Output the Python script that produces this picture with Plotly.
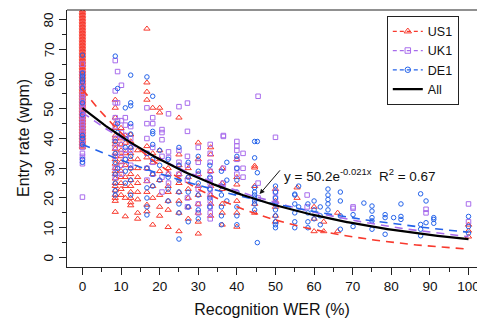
import numpy as np
import plotly.graph_objects as go

# ---------------- data ----------------
# each entry: (Recognition WER %, [entry rates in wpm observed at that WER])
us1_columns = [
    (0, [37, 37.5, 38, 38.5, 39, 39.5, 40, 40.5, 41, 41.5, 42, 42.5, 43, 43.5, 44, 44.5, 45, 45.5,
         46, 46.5, 47, 47.5, 48, 48.5, 49, 49.5, 50, 50.5, 51, 51.5, 52, 52.5, 53, 53.5, 54, 54.5,
         55, 55.5, 56, 56.5, 57, 57.5, 58, 58.5, 59, 59.5, 60, 60.5, 61, 61.5, 62, 62.5, 63, 63.5,
         64, 64.5, 65, 65.5, 66, 66.5, 67, 67.5, 68, 68.5, 69, 69.5, 70, 70.5, 71, 71.5, 72, 72.5,
         73, 73.5, 74, 74.5, 75, 75.5, 76, 76.5, 77, 77.5, 78, 78.5, 79, 79.5, 80, 80.5, 81, 81.5,
         82, 82.5, 83, 84]),
    (8.5, [53, 50.3, 47, 45, 43.5, 41, 40, 39, 38, 36.5, 35, 34, 33, 31.5, 30, 29, 28, 26.5, 25, 24,
           22.5, 21, 20, 19, 15.3]),
    (10, [43.5, 40, 38, 36, 34, 32, 29, 27, 25, 23, 21]),
    (11.1, [41, 38.5, 35, 31, 27, 24, 20, 13.8]),
    (12.5, [41.3, 39, 37, 35, 33, 30, 28, 26, 24, 22, 20, 18.5, 17.5]),
    (14.3, [36, 33, 30, 27, 25, 22, 19.5, 15, 13]),
    (16.7, [76.9, 58.8, 55.7, 53, 37.4, 33.6, 30, 25.6, 22, 17.7, 15.5]),
    (18.2, [50.3, 35, 31.9, 28, 24, 20, 11]),
    (20, [50.3, 48.7, 36, 33, 29, 26, 21, 17, 14]),
    (22.2, [30, 28, 24, 22, 19, 16, 10.2]),
    (25, [47, 34.6, 31, 28, 25, 22, 19, 15, 8.8]),
    (27.4, [30, 27, 23, 20, 17, 13]),
    (30, [38.6, 33, 28, 24, 21, 18, 15, 12, 8]),
    (33.2, [37, 34.6, 29, 24, 21, 18, 14]),
    (36.2, [30, 25, 23, 18, 15, 11]),
    (40, [33, 27, 24.5, 19, 15, 10.3]),
    (44.6, [30.8, 30.2, 24, 18, 15]),
    (50, [23, 19, 17, 14, 12]),
    (55.6, [23.5, 20]),
    (60, [17, 13, 8.8]),
    (62.5, [12, 8.8]),
    (66.1, [15, 8.8]),
    (100, [11, 9, 7]),
]

uk1_columns = [
    (0, [65, 62, 60, 58, 57, 55, 54, 53, 52, 51, 50, 49, 48, 47, 46, 45, 44, 43, 42, 41, 40, 39, 38,
         37, 35, 34, 33, 31.5, 20.3]),
    (8.5, [66.2, 56, 52, 47, 44, 40, 37, 34, 30, 27]),
    (9.1, [62.5, 52, 46]),
    (10.1, [57.9, 46, 42, 38, 35, 31, 28]),
    (11.1, [47, 44.5, 41, 36, 33]),
    (12.5, [44, 40, 36, 31]),
    (16.7, [50.3, 45, 40, 35, 30, 26]),
    (18.2, [47, 45, 37, 32, 28]),
    (20.6, [43, 42, 39.6, 34, 27, 22]),
    (22.3, [48.3, 35.5, 33.6, 28, 25]),
    (25, [50.7, 36, 32, 28]),
    (27.2, [51.9, 42.4, 34, 31, 26, 20, 17]),
    (30, [37, 32, 28, 23, 18, 15]),
    (33.1, [38, 35, 32, 29, 26.5, 25, 23, 21, 19, 17, 15, 13]),
    (36.5, [40.7, 41, 30, 25]),
    (40, [39, 37.5, 36, 33, 28, 30]),
    (41.6, [35, 30, 27]),
    (45.5, [54.2, 25, 20]),
    (50, [40.4, 22, 20, 18]),
    (58.2, [21, 17]),
    (70.1, [17, 16.5]),
    (89, [15, 16.2]),
    (100, [18, 12]),
]

de1_columns = [
    (0, [68, 62, 61, 60, 59, 57, 52, 48, 41, 40, 38, 33, 32]),
    (8.5, [67.7, 39, 35, 32, 28, 25, 22.5, 21]),
    (9.1, [56.8, 45, 42, 30]),
    (11.1, [50.3, 40, 37, 33, 29, 25]),
    (12.5, [61.3, 52, 51, 45, 41.5, 37, 34, 30, 26, 21]),
    (16.7, [60.7, 35, 30, 23.4, 20, 17, 14.3]),
    (18.2, [54.2, 42.4, 41.6, 38, 33, 28, 24]),
    (20, [36, 31, 26]),
    (22.2, [33, 27, 23, 19]),
    (25, [37, 31, 26, 22, 18, 15, 6.2]),
    (27.4, [32, 27, 22, 17, 12]),
    (30, [34, 29, 25, 21, 16, 13]),
    (33, [31, 27, 23, 20, 17]),
    (36, [29, 24, 21, 17, 14, 11]),
    (37.4, [32, 26, 19]),
    (40, [34, 30, 26, 22, 17, 14, 11]),
    (44.6, [39, 33.5, 23.5, 22, 21, 20, 19, 18, 16]),
    (45.3, [39, 28.5, 5]),
    (50, [24, 22, 20, 18, 16, 14, 12, 11, 10]),
    (55, [21.3, 21, 18, 15, 12, 10]),
    (56, [24, 17]),
    (58.4, [18, 15, 12, 10]),
    (60, [19, 16, 13]),
    (61.6, [17, 14, 11]),
    (63.6, [23, 21, 19.5, 18, 16]),
    (66.8, [22, 19, 14, 9.5]),
    (70.1, [14.4, 10.4]),
    (72.9, [18.3]),
    (75, [17.3, 15.6, 13.4, 12.3, 9.5]),
    (78.4, [14.4, 13.4, 7.8]),
    (80.6, [13.4]),
    (82.5, [18, 13.8, 12.8]),
    (87.6, [21.4, 11.1, 9.5, 7.3]),
    (89, [19, 11.7]),
    (91, [12.8, 13.4, 11.5]),
    (100, [13.8, 10.4, 8.2]),
]

# exponential fits y = a * exp(b * x)
series_names = ["US1", "UK1", "DE1"]
fit_a = [56.5, 48.7, 38.0]
fit_b = [-0.0300, -0.0194, -0.0150]
all_a = 50.2
all_b = -0.021
all_r2 = 0.67

x_ticks = [0, 10, 20, 30, 40, 50, 60, 70, 80, 90, 100]
y_ticks = [0, 10, 20, 30, 40, 50, 60, 70, 80]
x_title = "Recognition WER (%)"
y_title = "Entry rate (wpm)"

# ---------------- styling ----------------
colors = ["#F83A2E", "#A86CEC", "#2463EA"]
symbols = ["triangle-up-open", "square-open", "circle-open"]
sizes = [5.5, 4.5, 4.5]
FONT = "Liberation Sans, Arial, Helvetica, sans-serif"


def flatten(cols):
    xs, ys = [], []
    for wer, vals in cols:
        for v in vals:
            xs.append(wer)
            ys.append(v)
    return xs, ys


fig = go.Figure()

all_cols = [us1_columns, uk1_columns, de1_columns]
for cols, name, c, s, sz in zip(all_cols, series_names, colors, symbols, sizes):
    xs, ys = flatten(cols)
    fig.add_trace(go.Scatter(x=xs, y=ys, mode="markers", showlegend=False, cliponaxis=True,
                             marker=dict(symbol=s, size=sz, color=c, line=dict(width=1, color=c))))

xfit = np.linspace(0, 100, 201)
for a, b, c in zip(fit_a, fit_b, colors):
    fig.add_trace(go.Scatter(x=xfit, y=a * np.exp(b * xfit), mode="lines", showlegend=False,
                             line=dict(color=c, width=1.6, dash="8px,6px")))
fig.add_trace(go.Scatter(x=xfit, y=all_a * np.exp(all_b * xfit), mode="lines", showlegend=False,
                         line=dict(color="black", width=2.2)))

# legend-only entries
for name, c, s, sz in zip(series_names, colors, symbols, sizes):
    fig.add_trace(go.Scatter(x=[None], y=[None], mode="lines+markers", name=name,
                             line=dict(color=c, width=1.2, dash="4px,3px"),
                             marker=dict(symbol=s, size=sz + 1, color=c, line=dict(width=1, color=c))))
fig.add_trace(go.Scatter(x=[None], y=[None], mode="lines", name="All",
                         line=dict(color="black", width=2.2)))

axis_common = dict(showgrid=False, zeroline=False, showline=True, linecolor="#222", linewidth=1.2,
                   ticks="outside", ticklen=7, tickwidth=1, tickcolor="#222", automargin=False,
                   ticklabeloverflow="allow",
                   tickfont=dict(size=13.5, color="#111", family=FONT),
                   minor=dict(ticks="outside", ticklen=4, tickwidth=1, tickcolor="#222"))

fig.update_layout(
    width=477, height=320,
    margin=dict(l=67, r=0, t=10, b=53),
    paper_bgcolor="white", plot_bgcolor="white",
    font=dict(family=FONT, color="#111"),
    xaxis=dict(range=[-4, 102.2], tickvals=x_ticks, ticktext=[str(v) for v in x_ticks],
               title=dict(text=x_title, font=dict(size=16), standoff=10),
               **axis_common),
    yaxis=dict(range=[-3.2, 83.2], tickvals=y_ticks, showticklabels=False,
               **axis_common),
    legend=dict(x=0.78, y=0.978, xanchor="left", yanchor="top", bgcolor="white",
                bordercolor="#222", borderwidth=1, font=dict(size=12.5, family=FONT),
                itemwidth=30, tracegroupgap=0),
    showlegend=True,
)
fig.update_xaxes(minor_dtick=5)
fig.update_yaxes(minor_dtick=5)

# rotated y tick labels (R style, parallel to the axis)
for v in y_ticks:
    fig.add_annotation(x=-0.044, y=v, xref="paper", yref="y", text=str(v), textangle=-90,
                       showarrow=False, xanchor="center", yanchor="middle",
                       font=dict(size=13.5, color="#111", family=FONT))
# y axis title
fig.add_annotation(x=-0.106, y=0.5, xref="paper", yref="paper", text=y_title, textangle=-90,
                   showarrow=False, xanchor="center", yanchor="middle",
                   font=dict(size=16, color="#111", family=FONT))

# top border of the plot box
fig.add_shape(type="line", xref="paper", yref="paper", x0=0, x1=1, y0=1, y1=1,
              line=dict(color="#222", width=1.2))

# fit equation + arrow
fig.add_annotation(x=51.7, y=27.6, xref="x", yref="y", xanchor="left", yanchor="middle",
                   text=f"y = {all_a}e<sup>{all_b}x</sup>&nbsp;&nbsp;R<sup>2</sup> = {all_r2}",
                   showarrow=False, font=dict(size=13.5, color="#111", family=FONT))
fig.add_annotation(x=45.9, y=21.3, xref="x", yref="y", ax=51.5, ay=29.8, axref="x", ayref="y",
                   text="", showarrow=True, arrowhead=2, arrowsize=1, arrowwidth=1, arrowcolor="#111")

fig.write_html("out.html", config={"displayModeBar": False},
               post_script="document.body.style.margin='0';document.body.style.padding='0';"
                           "document.body.style.overflow='hidden';")
